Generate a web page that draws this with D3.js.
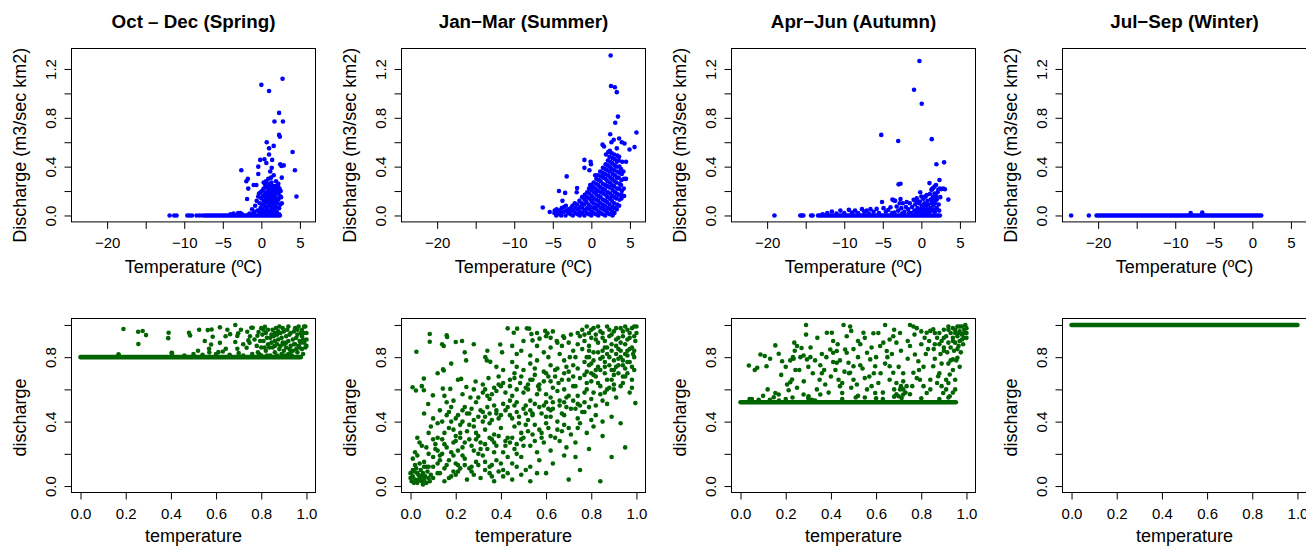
<!DOCTYPE html>
<html><head><meta charset="utf-8">
<script src="https://cdn.jsdelivr.net/npm/d3@7"></script>
<style>
body{margin:0;background:#fff}
svg{display:block}
text{font-family:"Liberation Sans",Arial,Helvetica,sans-serif;fill:#000}
</style>
</head><body>
<svg id="c" width="1306" height="546"></svg>
<script>
// ---------------- DATA ----------------
const titles = ["Oct \u2013 Dec (Spring)", "Jan\u2212Mar (Summer)", "Apr\u2212Jun (Autumn)", "Jul\u2212Sep (Winter)"];
const topXTitle = "Temperature (\u00baC)";
const topYTitle = "Discharge (m3/sec km2)";
const botXTitle = "temperature";
const botYTitle = "discharge";

const tempTicks = [-20, -15, -10, -5, 0, 5];
const tempTickLabels = ["\u221220", "", "\u221210", "\u22125", "0", "5"];
const dischTicks = [0, 0.2, 0.4, 0.6, 0.8, 1.0, 1.2];
const dischTickLabels = ["0.0", "", "0.4", "", "0.8", "", "1.2"];
const unitTicks = [0, 0.2, 0.4, 0.6, 0.8, 1.0];
const unitXTickLabels = ["0.0", "0.2", "0.4", "0.6", "0.8", "1.0"];
const unitYTickLabels = ["0.0", "", "0.4", "", "0.8", ""];

const tempRange = [-23.45, 5.85];
const dischRange = [0, 1.315];
const unitRange = [0, 1];

// Observed (temperature, discharge) points — top row
const springObs = [
 [-11.9,0],[-11.3,0],[-11.0,0],[-9.6,0],[-9.3,0],[-9.0,0],[-8.4,0],[-8.0,0],[-7.6,0],
 [-4.0,0.01],[-3.6,0.015],[-2.7,0.02],[-1.6,0.01],
 [0.0,1.07],[1.0,1.02],[2.75,1.12],[2.3,0.84],[1.7,0.77],[2.8,0.77],[2.3,0.66],[2.4,0.645],[0.7,0.60],[1.6,0.57],[1.0,0.55],[1.0,0.50],[4.05,0.52],
 [-0.15,0.455],[0.4,0.46],[1.4,0.455],[0.65,0.43],[2.45,0.42],[2.6,0.405],[2.9,0.41],[4.35,0.37],[-2.6,0.37],[-0.4,0.40],[1.35,0.39],[1.15,0.36],
 [-0.4,0.34],[-1.75,0.30],[-1.95,0.28],[0.9,0.30],[1.25,0.31],[1.6,0.33],[2.65,0.31],[-1.0,0.25],[-0.65,0.25],[-1.7,0.22],[4.55,0.155],[-1.85,0.135],
 [-0.4,0.155],[-0.1,0.19],[2.55,0.15],[2.65,0.10],[0.6,0.28],[0.3,0.27],[1.9,0.28],[2.2,0.26],
 [-1.2,0.05],[-1.0,0.02],[-0.8,0.08],[-0.6,0.12],[-0.5,0.04],[-0.3,0.18],[-0.2,0.10],[-0.1,0.06],[0.0,0.14],[0.0,0.03],[0.1,0.20],[0.1,0.09],
 [0.2,0.05],[0.2,0.16],[0.3,0.12],[0.3,0.22],[0.35,0.02],[0.4,0.08],[0.45,0.17],[0.5,0.25],[0.5,0.11],[0.55,0.04],[0.6,0.19],[0.6,0.14],
 [0.65,0.07],[0.7,0.23],[0.7,0.02],[0.75,0.12],[0.8,0.18],[0.8,0.05],[0.85,0.26],[0.9,0.10],[0.9,0.15],[0.95,0.21],[1.0,0.03],[1.0,0.13],
 [1.05,0.08],[1.1,0.24],[1.1,0.18],[1.15,0.11],[1.2,0.04],[1.2,0.20],[1.25,0.15],[1.3,0.09],[1.3,0.27],[1.35,0.22],[1.4,0.06],[1.4,0.17],
 [1.45,0.12],[1.5,0.24],[1.5,0.02],[1.55,0.19],[1.6,0.09],[1.6,0.14],[1.65,0.22],[1.7,0.05],[1.75,0.17],[1.8,0.11],[1.8,0.24],[1.85,0.20],
 [1.9,0.07],[1.95,0.14],[2.0,0.22],[2.0,0.03],[2.05,0.18],[2.1,0.10],[2.15,0.24],[2.2,0.13],[2.25,0.19],[2.3,0.06],[2.35,0.22],[2.4,0.16],
 [2.45,0.09],[2.5,0.20],[0.25,0.01],[0.55,0.01],[0.9,0.015],[1.25,0.01],[1.6,0.01],[1.95,0.01],[2.3,0.01],[-2.5,0.01],[-3.0,0.02],[-1.5,0.015],
 [-0.9,0.03],[-0.2,0.02]
];
const springObsRuns = [[-7.3, 2.4, 0]];

const summerObs = [
 [2.5,1.31],[2.55,1.06],[3.05,1.05],[3.3,1.01],[3.45,0.81],[3.1,0.76],[5.85,0.68],[2.45,0.665],[5.6,0.56],[4.95,0.54],[1.45,0.58],[1.65,0.565],
 [3.6,0.63],[3.95,0.60],[4.3,0.59],[-0.9,0.455],[-0.9,0.39],[-0.1,0.44],[-0.05,0.42],[-3.2,0.32],[-4.2,0.20],[-3.4,0.185],[-1.85,0.225],[-1.9,0.19],
 [-6.3,0.065],[-5.4,0.028],[-3.75,0.12],[-0.25,0.37],[0.5,0.33],[-0.15,0.25],[3.9,0.17],[4.25,0.16],[2.75,0.0],[4.5,0.30],[4.0,0.44],[4.5,0.44],
 [2.6,0.60],[2.9,0.62],[3.3,0.55],[2.2,0.52],[1.9,0.50],[3.6,0.48],
 [-4.8,0.02],[-4.75,0.04],[-4.55,0.0],[-4.45,0.03],[-4.5,0.05],[-4.2,0.01],[-4.15,0.04],[-3.95,0.02],[-3.85,0.06],[-3.9,0.0],[-3.6,0.03],[-3.55,0.07],
 [-3.35,0.0],[-3.25,0.04],[-3.3,0.08],[-3.0,0.02],[-2.95,0.05],[-2.7,0.01],[-2.65,0.06],[-2.75,0.03],[-2.4,0.0],[-2.35,0.04],[-2.45,0.08],[-2.1,0.02],
 [-2.05,0.06],[-2.15,0.10],[-1.8,0.01],[-1.75,0.05],[-1.85,0.09],[-1.5,0.03],[-1.45,0.07],[-1.55,0.12],[-1.5,0.0],[-1.2,0.02],[-1.15,0.06],[-1.25,0.10],
 [-1.2,0.15],[-0.9,0.0],[-0.85,0.04],[-0.95,0.09],[-0.9,0.13],[-0.85,0.17],[-0.6,0.02],[-0.55,0.06],[-0.65,0.11],[-0.6,0.15],[-0.55,0.19],[-0.3,0.01],
 [-0.25,0.05],[-0.35,0.09],[-0.3,0.14],[-0.25,0.18],[-0.3,0.22],[0.0,0.0],[0.05,0.03],[-0.05,0.07],[0.0,0.12],[0.05,0.16],[-0.05,0.21],[0.0,0.25],
 [0.3,0.02],[0.35,0.06],[0.25,0.10],[0.3,0.14],[0.35,0.19],[0.25,0.23],[0.3,0.27],[0.6,0.01],[0.65,0.05],[0.55,0.09],[0.6,0.13],[0.65,0.17],
 [0.55,0.22],[0.6,0.26],[0.65,0.30],[0.9,0.0],[0.95,0.03],[0.85,0.08],[0.9,0.12],[0.95,0.16],[0.85,0.20],[0.9,0.25],[0.95,0.29],[0.85,0.33],
 [1.2,0.02],[1.25,0.06],[1.15,0.10],[1.2,0.15],[1.25,0.19],[1.15,0.23],[1.2,0.28],[1.25,0.32],[1.15,0.36],[1.5,0.01],[1.55,0.05],[1.45,0.09],
 [1.5,0.13],[1.55,0.18],[1.45,0.22],[1.5,0.26],[1.55,0.31],[1.45,0.35],[1.5,0.39],[1.8,0.0],[1.85,0.04],[1.75,0.08],[1.8,0.12],[1.85,0.17],
 [1.75,0.21],[1.8,0.25],[1.85,0.30],[1.75,0.34],[1.8,0.38],[1.85,0.42],[2.1,0.02],[2.15,0.06],[2.05,0.11],[2.1,0.15],[2.15,0.19],[2.05,0.24],
 [2.1,0.28],[2.15,0.33],[2.05,0.37],[2.1,0.41],[2.15,0.45],[2.4,0.01],[2.45,0.05],[2.35,0.09],[2.4,0.14],[2.45,0.18],[2.35,0.23],[2.4,0.27],
 [2.45,0.31],[2.35,0.36],[2.4,0.40],[2.45,0.44],[2.35,0.48],[2.4,0.53],[2.7,0.03],[2.75,0.07],[2.65,0.12],[2.7,0.16],[2.75,0.21],[2.65,0.25],
 [2.7,0.30],[2.75,0.34],[2.65,0.38],[2.7,0.43],[2.75,0.47],[2.65,0.51],[3.0,0.02],[3.05,0.06],[2.95,0.10],[3.0,0.15],[3.05,0.19],[2.95,0.24],
 [3.0,0.28],[3.05,0.33],[2.95,0.37],[3.0,0.41],[3.05,0.46],[2.95,0.50],[3.3,0.05],[3.35,0.09],[3.25,0.14],[3.3,0.18],[3.35,0.22],[3.25,0.27],
 [3.3,0.31],[3.35,0.36],[3.25,0.40],[3.3,0.44],[3.35,0.49],[3.6,0.08],[3.65,0.13],[3.55,0.17],[3.6,0.22],[3.65,0.26],[3.55,0.31],[3.6,0.35],
 [3.65,0.40],[3.55,0.45],[3.9,0.14],[3.95,0.20],[3.85,0.25],[3.9,0.29],[3.95,0.34],[3.85,0.38],[4.2,0.22],[4.25,0.30],[4.15,0.36]
];
const summerObsRuns = [];

const autumnObs = [
 [-19.05,0],[-15.7,0],[-15.5,0],[-15.3,0],[-14.3,0],[-14.1,0],
 [-0.25,1.265],[-0.95,1.03],[0.05,0.915],[-5.2,0.66],[-3.0,0.61],[1.35,0.625],[2.95,0.435],[1.95,0.42],[-2.95,0.255],[-2.7,0.26],[1.05,0.265],
 [2.35,0.29],[3.5,0.13],[-0.15,0.19],[-5.1,0.11],[-3.75,0.13],[-3.6,0.125],[-2.7,0.135],[-1.9,0.11],[1.45,0.22],[2.85,0.22],[3.05,0.215],
 [0.5,0.155],[-0.7,0.12],
 [-12.8,0.01],[-12.2,0.02],[-11.6,0.033],[-11.0,0.015],[-10.5,0.04],[-10.0,0.02],[-9.4,0.046],[-9.0,0.025],[-8.6,0.04],[-8.2,0.02],[-7.7,0.052],
 [-7.4,0.03],[-7.1,0.04],[-6.8,0.015],[-6.6,0.052],[-6.2,0.03],[-5.8,0.054],[-5.5,0.02],[-4.9,0.06],[-4.6,0.03],[-4.3,0.045],[-4.0,0.068],
 [-3.8,0.02],[-3.4,0.12],[-3.2,0.073],[-3.0,0.04],[-2.8,0.1],[-2.6,0.06],[-2.4,0.1],[-2.2,0.03],[-2.0,0.07],[-1.7,0.05],[-1.5,0.1],[-1.3,0.02],
 [-1.2,0.07],[-1.0,0.128],[-0.9,0.04],[-0.8,0.09],[-0.6,0.14],[-0.5,0.06],[-0.4,0.03],[-0.3,0.1],[-0.2,0.114],[-0.1,0.05],[0.0,0.155],[0.05,0.08],
 [0.1,0.02],[0.25,0.136],[0.3,0.06],[0.4,0.1],[0.5,0.03],[0.55,0.155],[0.6,0.08],[0.7,0.168],[0.75,0.05],[0.8,0.12],[0.9,0.09],[1.0,0.02],
 [1.1,0.176],[1.15,0.06],[1.2,0.13],[1.3,0.21],[1.35,0.1],[1.4,0.04],[1.5,0.223],[1.5,0.15],[1.55,0.08],[1.6,0.12],[1.7,0.236],[1.7,0.18],
 [1.75,0.03],[1.8,0.1],[1.9,0.25],[1.9,0.16],[2.0,0.06],[2.0,0.13],[2.1,0.19],[2.2,0.21],[2.25,0.09],[2.3,0.04],[2.4,0.22],[2.45,0.15],
 [2.6,0.216],[-1.6,0.02],[-2.5,0.015],[-3.5,0.025],[-0.7,0.025],[0.2,0.04],[0.95,0.035],[1.6,0.045]
];
const autumnObsRuns = [[-13.4, 2.4, 0]];

const winterObs = [[-23.5,0],[-21.2,0],[-8.0,0.02],[-6.5,0.025]];
const winterObsRuns = [[-20.2, 1.15, 0]];

// Normalised (temperature, discharge) points — bottom row
const springNorm = [
 [0.19,0.975],[0.255,0.958],[0.275,0.962],[0.29,0.937],[0.256,0.882],[0.168,0.818],[0.39,0.952],[0.388,0.918],[0.403,0.827],[0.48,0.952],
 [0.485,0.935],[0.525,0.97],[0.563,0.968],[0.58,0.972],[0.617,0.985],[0.685,1.0],[0.698,0.948],[0.694,0.931],[0.756,0.983],[0.762,0.983],
 [0.738,0.958],[0.743,0.904],[0.748,0.889],[0.685,0.894],[0.585,0.927],[0.578,0.879],[0.569,0.852],[0.617,0.889],[0.61,0.831],[0.642,0.93],
 [0.662,0.943],[0.643,0.852],[0.694,0.852],[0.735,0.858],[0.788,0.956],[0.783,0.933],[0.816,0.989],
 [0.17,0.81],[0.405,0.825],[0.46,0.81],[0.5,0.82],[0.54,0.815],[0.57,0.83],[0.6,0.82],[0.63,0.835],[0.66,0.815],[0.7,0.825],[0.72,0.81],[0.76,0.82],
 [0.79,0.82],[0.8,0.86],[0.81,0.9],[0.82,0.84],[0.82,0.95],[0.83,0.88],[0.84,0.92],[0.84,0.81],[0.85,0.97],[0.85,0.86],[0.86,0.9],[0.86,0.83],
 [0.87,0.94],[0.87,0.88],[0.88,0.99],[0.88,0.85],[0.89,0.92],[0.89,0.82],[0.9,0.96],[0.9,0.88],[0.9,0.84],[0.91,0.93],[0.91,0.86],[0.92,0.99],
 [0.92,0.9],[0.92,0.82],[0.93,0.95],[0.93,0.87],[0.94,0.91],[0.94,0.84],[0.95,0.98],[0.95,0.88],[0.96,0.94],[0.96,0.83],[0.97,0.9],[0.97,0.86],
 [0.98,0.97],[0.98,0.93],[0.98,0.85],[0.99,0.99],[0.99,0.89],[1.0,0.95],[1.0,0.91],[0.995,0.99],[0.985,0.82],[0.965,0.99],[0.945,0.96],[0.925,0.85],
 [0.905,0.81],[0.885,0.95],[0.865,0.98],[0.845,0.89],[0.825,0.92],[0.805,0.94],[0.8,0.98],[0.78,0.87],[0.77,0.91],[0.8,0.81],[0.83,0.97],[0.86,0.95],
 [0.915,0.97],[0.935,0.81],[0.955,0.92],[0.975,0.95],[0.995,0.86],[0.965,0.87],[0.875,0.91],[0.895,0.89],[0.855,0.93],[0.815,0.86],
 [0.785,0.83],[0.795,0.9],[0.81,0.97],[0.825,0.81],[0.835,0.86],[0.845,0.94],[0.86,0.87],[0.87,0.81],[0.875,0.96],[0.885,0.87],[0.895,0.98],
 [0.91,0.89],[0.925,0.94],[0.93,0.83],[0.945,0.88],[0.955,0.85],[0.96,0.97],[0.975,0.89],[0.985,0.91],[0.99,0.95],[1.0,0.87],[0.65,0.97],
 [0.71,0.97],[0.72,0.88],[0.75,0.93],[0.55,0.9],[0.52,0.84]
];
const springNormRuns = [[0, 0.975, 0.8]];

const summerNorm = [
 [0.085,0.944],[0.16,0.935],[0.162,0.925],[0.43,0.979],[0.457,0.952],[0.472,0.977],[0.515,0.979],[0.525,0.977],[0.535,0.944],[0.54,0.904],
 [0.571,0.915],[0.596,0.963],[0.606,0.948],[0.62,0.92],[0.647,0.90],[0.676,0.93],
 [0.085,0.896],[0.14,0.88],[0.147,0.869],[0.2,0.894],[0.228,0.90],[0.397,0.879],[0.56,0.87],[0.62,0.86],[0.67,0.87],[0.026,0.834],[0.24,0.83],
 [0.331,0.80],[0.405,0.83],[0.47,0.82],[0.49,0.84],[0.53,0.81],[0.59,0.83],[0.61,0.80],[0.66,0.82],[0.705,0.80],
 [0.144,0.724],[0.147,0.717],[0.246,0.78],[0.338,0.78],[0.353,0.771],[0.38,0.74],[0.41,0.72],[0.45,0.77],[0.47,0.74],[0.5,0.72],[0.53,0.76],
 [0.55,0.73],[0.59,0.71],[0.62,0.75],[0.65,0.73],[0.68,0.78],[0.7,0.71],[0.72,0.75],
 [0.059,0.667],[0.009,0.613],[0.143,0.605],[0.176,0.603],[0.21,0.66],[0.224,0.665],[0.247,0.615],[0.288,0.649],[0.32,0.63],[0.345,0.67],
 [0.37,0.61],[0.39,0.68],[0.41,0.64],[0.44,0.62],[0.46,0.67],[0.485,0.64],[0.51,0.61],[0.53,0.66],[0.55,0.69],[0.565,0.62],[0.59,0.65],
 [0.61,0.68],[0.63,0.61],[0.655,0.64],[0.68,0.6],[0.70,0.66],[0.73,0.62],[0.75,0.67],[0.78,0.64],[0.81,0.69],[0.84,0.62],[0.87,0.66],
 [0.9,0.63],[0.94,0.68],[0.98,0.61],
 [0.024,0.593],[0.059,0.595],[0.099,0.563],[0.078,0.509],[0.15,0.56],[0.19,0.53],[0.23,0.57],[0.265,0.55],[0.29,0.52],[0.32,0.58],[0.35,0.54],
 [0.38,0.59],[0.41,0.51],[0.45,0.56],[0.47,0.52],[0.5,0.58],[0.53,0.53],[0.56,0.57],[0.59,0.50],[0.62,0.55],[0.65,0.59],[0.68,0.52],[0.7,0.56],
 [0.74,0.51],[0.77,0.58],[0.8,0.54],[0.84,0.57],[0.87,0.51],[0.91,0.55],[0.995,0.515],
 [0.13,0.47],[0.16,0.44],[0.18,0.49],[0.2,0.42],[0.23,0.47],[0.25,0.45],[0.27,0.48],[0.3,0.43],[0.32,0.46],[0.34,0.49],[0.36,0.41],[0.38,0.47],
 [0.4,0.44],[0.43,0.49],[0.45,0.42],[0.47,0.46],[0.5,0.48],[0.52,0.41],[0.54,0.45],[0.57,0.49],[0.6,0.43],[0.62,0.47],[0.65,0.4],[0.68,0.44],
 [0.71,0.48],[0.74,0.42],[0.77,0.46],[0.8,0.41],[0.82,0.44],[0.85,0.40],[0.89,0.43],
 [0.09,0.37],[0.12,0.39],[0.15,0.33],[0.17,0.36],[0.2,0.31],[0.22,0.38],[0.25,0.34],[0.28,0.37],[0.3,0.31],[0.33,0.35],[0.35,0.39],[0.37,0.32],
 [0.4,0.36],[0.43,0.30],[0.46,0.37],[0.49,0.33],[0.51,0.38],[0.54,0.32],[0.57,0.35],[0.6,0.39],[0.62,0.31],[0.65,0.35],[0.68,0.38],[0.71,0.32],
 [0.74,0.36],[0.78,0.33],[0.81,0.37],[0.85,0.31],[0.93,0.39],
 [0.04,0.27],[0.07,0.24],[0.1,0.29],[0.12,0.22],[0.15,0.26],[0.18,0.21],[0.2,0.28],[0.23,0.24],[0.26,0.29],[0.28,0.22],[0.31,0.27],[0.34,0.23],
 [0.36,0.29],[0.38,0.25],[0.41,0.21],[0.44,0.27],[0.46,0.23],[0.49,0.29],[0.53,0.25],[0.56,0.21],[0.59,0.27],[0.62,0.22],[0.66,0.28],[0.69,0.24],
 [0.73,0.27],[0.79,0.23],[0.95,0.24],
 [0.01,0.17],[0.03,0.19],[0.06,0.15],[0.08,0.12],[0.1,0.18],[0.12,0.14],[0.15,0.11],[0.17,0.16],[0.19,0.19],[0.21,0.13],[0.24,0.17],[0.26,0.11],
 [0.29,0.15],[0.32,0.19],[0.35,0.12],[0.38,0.16],[0.41,0.1],[0.45,0.14],[0.49,0.18],[0.53,0.12],[0.57,0.16],[0.63,0.14],[0.68,0.19],[0.73,0.18],
 [0.75,0.10],[0.89,0.18],
 [0.1,0.05],[0.12,0.08],[0.15,0.03],[0.18,0.06],[0.21,0.09],[0.25,0.04],[0.28,0.07],[0.31,0.05],[0.35,0.08],[0.37,0.03],[0.41,0.06],[0.45,0.04],
 [0.49,0.07],[0.53,0.03],[0.56,0.08],[0.6,0.08],[0.7,0.04],[0.84,0.03],
 [0.005,0.03],[0.01,0.06],[0.015,0.09],[0.02,0.04],[0.025,0.11],[0.03,0.02],[0.035,0.07],[0.04,0.05],[0.045,0.1],[0.05,0.03],[0.055,0.08],
 [0.06,0.04],[0.065,0.06],[0.07,0.02],[0.075,0.09],[0.08,0.05],[0.02,0.13],[0.04,0.14],[0.06,0.12],[0.01,0.1],[0.03,0.08],[0.05,0.06],
 [0.07,0.12],[0.085,0.03],[0.09,0.07],[0.0,0.05],[0.0,0.08],[0.015,0.02],[0.055,0.01],[0.035,0.035],
 [0.76,0.97],[0.78,0.99],[0.79,0.95],[0.8,0.92],[0.81,0.98],[0.77,0.9],[0.79,0.87],[0.82,0.94],[0.83,0.89],[0.84,0.96],[0.85,0.92],[0.86,0.86],
 [0.87,0.99],[0.88,0.93],[0.89,0.88],[0.9,0.96],[0.91,0.91],[0.92,0.85],[0.93,0.98],[0.94,0.93],[0.95,0.88],[0.96,0.97],[0.97,0.92],[0.98,0.86],
 [0.99,0.99],[1.0,0.95],[0.995,0.9],[0.985,0.82],[0.96,0.81],[0.93,0.8],[0.9,0.78],[0.87,0.82],[0.84,0.79],[0.81,0.83],[0.78,0.8],[0.76,0.85],
 [0.75,0.93],[0.74,0.88],[0.8,0.76],[0.83,0.74],[0.86,0.77],[0.89,0.72],[0.92,0.75],[0.95,0.73],[0.97,0.77],[0.99,0.8],[0.9,0.69],[0.86,0.7],
 [0.82,0.68],[0.78,0.71],[0.94,0.64],[0.88,0.61],[0.96,0.84],[0.91,0.82],[0.85,0.84],[0.79,0.84],[0.73,0.8],[0.72,0.84],[0.7,0.89],[0.71,0.94],
 [0.1,0.42],[0.12,0.3],[0.14,0.2],[0.16,0.52],[0.18,0.4],[0.2,0.14],[0.22,0.33],[0.24,0.49],[0.26,0.38],[0.28,0.6],[0.3,0.2],[0.32,0.4],
 [0.34,0.56],[0.36,0.13],[0.38,0.45],[0.4,0.62],[0.42,0.28],[0.44,0.53],[0.46,0.7],[0.48,0.39],[0.5,0.25],[0.52,0.63],[0.54,0.44],[0.56,0.78],
 [0.58,0.3],[0.6,0.57],[0.62,0.43],[0.64,0.68],[0.66,0.5],[0.68,0.7],[0.7,0.36],[0.72,0.62],[0.74,0.56],[0.76,0.46],[0.78,0.6],[0.8,0.65],
 [0.82,0.5],[0.84,0.72],[0.86,0.58],[0.88,0.8],[0.9,0.6],[0.92,0.7],[0.94,0.78],[0.96,0.7],[0.98,0.66],[0.11,0.26],[0.13,0.16],[0.19,0.09],
 [0.23,0.19],[0.27,0.12],[0.29,0.33],[0.33,0.15],[0.37,0.21],[0.39,0.09],[0.43,0.18],[0.47,0.2],[0.51,0.45],[0.55,0.38],[0.57,0.6],[0.61,0.48],
 [0.63,0.52],[0.67,0.45],[0.69,0.55],[0.73,0.48],[0.75,0.39],[0.77,0.52],[0.79,0.49],[0.81,0.58],[0.83,0.64],[0.85,0.53],[0.87,0.6],[0.89,0.66],
 [0.91,0.74],[0.93,0.62],[0.95,0.68],[0.97,0.58],[0.99,0.72],
 [0.02,0.21],[0.05,0.25],[0.08,0.2],[0.11,0.23],[0.13,0.19],[0.14,0.29],[0.16,0.24],[0.19,0.27],[0.21,0.22],[0.22,0.3],[0.24,0.27],[0.27,0.25],
 [0.29,0.29],[0.31,0.23],[0.33,0.26],[0.35,0.3],[0.37,0.27],[0.39,0.31],[0.42,0.25],[0.45,0.3],[0.47,0.26],[0.5,0.3],[0.52,0.34],[0.55,0.28],
 [0.58,0.33],[0.61,0.36],[0.64,0.3],[0.67,0.34],
 [0.1,0.12],[0.13,0.08],[0.16,0.13],[0.17,0.05],[0.2,0.07],[0.22,0.11],[0.24,0.13],[0.27,0.09],[0.3,0.13],[0.33,0.1],[0.36,0.06],[0.4,0.14],
 [0.43,0.08],[0.47,0.12],[0.51,0.1],
 [0.14,0.4],[0.17,0.46],[0.19,0.35],[0.21,0.44],[0.23,0.4],[0.26,0.45],[0.28,0.41],[0.31,0.47],[0.33,0.43],[0.35,0.45],[0.37,0.5],[0.39,0.42],
 [0.42,0.47],[0.44,0.44],[0.46,0.5],[0.48,0.43],[0.51,0.5],[0.53,0.47],[0.55,0.51],[0.58,0.45],[0.6,0.52],[0.63,0.48],[0.66,0.53],[0.69,0.49],
 [0.72,0.53],[0.75,0.5],
 [0.3,0.55],[0.33,0.6],[0.36,0.57],[0.39,0.63],[0.42,0.58],[0.44,0.66],[0.47,0.6],[0.49,0.68],[0.52,0.6],[0.54,0.66],[0.57,0.63],[0.6,0.7],
 [0.62,0.65],[0.64,0.72],[0.67,0.66],[0.69,0.74],[0.72,0.68],[0.74,0.73],[0.77,0.69],[0.79,0.75],
 [0.74,0.95],[0.77,0.94],[0.8,0.97],[0.82,0.91],[0.83,0.99],[0.85,0.95],[0.86,0.9],[0.88,0.97],[0.89,0.94],[0.91,0.98],[0.92,0.92],[0.93,0.89],
 [0.94,0.96],[0.95,0.99],[0.96,0.91],[0.97,0.95],[0.98,0.98],[0.99,0.93],[1.0,0.99],[0.97,0.85],[0.95,0.82],[0.93,0.84],[0.91,0.87],[0.89,0.84],
 [0.87,0.86],[0.85,0.8],[0.83,0.83],[0.81,0.78],[0.79,0.8],[0.77,0.77],[0.92,0.79],[0.94,0.75],[0.96,0.77],[0.98,0.74],[0.99,0.84],[0.88,0.75],
 [0.86,0.74],[0.9,0.72],[0.82,0.72],[0.8,0.7],
 [0.6,0.93],[0.63,0.96],[0.65,0.89],[0.68,0.92],[0.56,0.95],[0.5,0.9],[0.45,0.87],[0.34,0.84],[0.28,0.88],[0.18,0.76],[0.12,0.7],[0.05,0.62],
 [0.06,0.45],[0.08,0.33],[0.03,0.3]
];
const summerNormRuns = [];

const autumnNorm = [
 [0.037,0.748],[0.074,0.734],[0.063,0.72],[0.115,0.744],[0.088,0.817],[0.107,0.807],[0.131,0.79],[0.154,0.873],[0.169,0.821],[0.184,0.775],
 [0.147,0.551],[0.169,0.568],[0.154,0.578],[0.13,0.535],[0.206,0.63],[0.22,0.644],[0.228,0.661],[0.213,0.595],[0.25,0.869],[0.238,0.89],
 [0.235,0.79],[0.232,0.80],[0.243,0.72],[0.265,0.80],[0.279,0.81],[0.294,0.786],[0.309,0.80],[0.29,1.0],[0.29,0.94],[0.27,0.857],[0.25,0.61],
 [0.279,0.568],[0.301,0.557],[0.316,0.536],[0.338,0.6],[0.353,0.568],[0.353,0.75],[0.37,0.72],[0.375,0.63],[0.35,0.66],[0.382,0.952],
 [0.404,0.952],[0.397,0.848],[0.41,0.827],[0.426,0.838],[0.426,0.765],[0.42,0.72],[0.41,0.9],[0.434,0.66],[0.44,0.62],[0.45,0.578],[0.456,1.0],
 [0.485,0.99],[0.49,0.963],[0.463,0.848],[0.47,0.827],[0.478,0.765],[0.5,0.744],[0.485,0.703],[0.49,0.61],[0.5,0.66],[0.515,0.63],[0.52,0.9],
 [0.53,0.88],[0.544,0.952],[0.588,0.948],[0.56,0.827],[0.574,0.786],[0.596,0.744],[0.55,0.67],[0.58,0.62],[0.596,0.578],[0.61,0.64],[0.618,0.869],
 [0.632,0.89],[0.647,0.838],[0.66,0.91],[0.64,1.0],[0.676,0.93],[0.69,0.89],[0.706,0.95],[0.66,0.744],[0.676,0.703],[0.69,0.64],[0.706,0.6],
 [0.72,0.568],[0.735,0.62],[0.7,0.557],[0.713,0.546],[0.75,1.0],[0.765,0.99],[0.78,0.98],[0.75,0.869],[0.772,0.817],[0.787,0.775],[0.765,0.703],
 [0.794,0.66],[0.81,0.62],[0.824,0.578],[0.824,0.952],[0.84,0.963],[0.853,0.973],[0.853,0.744],[0.875,0.682],[0.89,0.62],[0.897,0.578],[0.91,0.6],
 [0.926,0.557],[0.94,0.786],[0.96,0.796],[0.926,0.692],[0.95,0.66],
 [0.32,0.7],[0.36,0.82],[0.4,0.68],[0.44,0.78],[0.46,0.71],[0.52,0.8],[0.54,0.73],[0.57,0.68],[0.6,0.8],[0.62,0.7],[0.64,0.76],[0.67,0.82],
 [0.7,0.74],[0.72,0.65],[0.74,0.79],[0.76,0.62],[0.79,0.72],[0.82,0.82],[0.84,0.66],[0.86,0.79],[0.88,0.7],[0.9,0.84],[0.92,0.76],[0.23,0.55],
 [0.33,0.53],[0.52,0.56],[0.6,0.545],[0.68,0.555],[0.72,0.6],[0.73,0.58],[0.71,0.62],[0.68,0.6],[0.05,0.54],[0.08,0.535],[0.17,0.53],
 [0.2,0.54],[0.3,0.545],[0.45,0.54],[0.55,0.55],[0.63,0.54],[0.8,0.545],[0.88,0.54],[0.92,0.55],
 [0.86,0.88],[0.87,0.92],[0.88,0.95],[0.89,0.9],[0.9,0.97],[0.9,0.86],[0.91,0.93],[0.92,0.89],[0.92,0.99],[0.93,0.95],[0.93,0.86],[0.94,0.92],
 [0.94,0.98],[0.95,0.89],[0.95,0.95],[0.96,0.93],[0.96,0.99],[0.97,0.9],[0.97,0.96],[0.98,0.94],[0.98,0.99],[0.99,0.97],[0.99,0.92],[1.0,0.98],
 [1.0,0.95],[0.995,1.0],[0.965,0.87],[0.945,0.84],[0.915,0.83],[0.885,0.82],[0.855,0.85],[0.835,0.9],[0.815,0.92],[0.8,0.88],[0.975,0.83],
 [0.955,0.78],[0.985,0.88],[0.97,0.74],[0.94,0.72],[0.92,0.64],[0.95,0.6],[0.94,0.58],
 [0.04,0.54],[0.1,0.56],[0.12,0.6],[0.18,0.69],[0.2,0.74],[0.22,0.78],[0.24,0.84],[0.26,0.72],[0.28,0.65],[0.3,0.74],[0.31,0.86],[0.33,0.78],
 [0.34,0.92],[0.36,0.7],[0.38,0.8],[0.39,0.58],[0.41,0.77],[0.43,0.88],[0.45,0.64],[0.47,0.93],[0.48,0.7],[0.5,0.85],[0.51,0.55],[0.53,0.75],
 [0.55,0.92],[0.56,0.6],[0.58,0.86],[0.59,0.7],[0.61,0.95],[0.63,0.58],[0.65,0.8],[0.66,0.66],[0.68,0.97],[0.69,0.57],[0.71,0.84],[0.72,0.7],
 [0.74,0.9],[0.75,0.57],[0.77,0.94],[0.78,0.67],[0.8,0.96],[0.81,0.74],[0.83,0.85],[0.84,0.6],[0.86,0.95],[0.87,0.64],[0.88,0.88],[0.89,0.76],
 [0.9,0.92],[0.91,0.66],[0.92,0.97],[0.93,0.78],[0.94,0.9],[0.95,0.97],[0.96,0.85],[0.97,0.99],[0.98,0.91],[0.99,0.95],[1.0,0.92],[0.965,0.95]
];
const autumnNormRuns = [[0, 0.953, 0.52]];

const winterNorm = [];
const winterNormRuns = [[0, 1, 1]];

const obsColor = "#0000FF";
const normColor = "#006400";

// ---------------- DRAWING ----------------
const svg = d3.select("#c");
const panelLeft = [71.5, 401.5, 731.5, 1062.5];
const W = 244;
const TOP_Y = 48.5, TOP_H = 173.4, BOT_Y = 318.5, BOT_H = 174;
const R = 2.3;
const FONT = '"Liberation Sans",Arial,Helvetica,sans-serif';

function padded(r) { const s = (r[1]-r[0])*0.04; return [r[0]-s, r[1]+s]; }

const xTop = d3.scaleLinear().domain(padded(tempRange)).range([0, W]);
const yTop = d3.scaleLinear().domain(padded(dischRange)).range([TOP_H, 0]);
const xBot = d3.scaleLinear().domain(padded(unitRange)).range([0, W]);
const yBot = d3.scaleLinear().domain(padded(unitRange)).range([BOT_H, 0]);

function drawPanel(o) {
  const g = svg.append("g").attr("transform", `translate(${o.left},${o.top})`);
  g.selectAll("line.run").data(o.runs).join("line").attr("class","run")
    .attr("x1", d => o.x(d[0])).attr("x2", d => o.x(d[1]))
    .attr("y1", d => o.y(d[2])).attr("y2", d => o.y(d[2]))
    .attr("stroke", o.color).attr("stroke-width", 2*R).attr("stroke-linecap", "round");
  g.selectAll("circle").data(o.pts).join("circle")
    .attr("cx", d => o.x(d[0])).attr("cy", d => o.y(d[1])).attr("r", R).attr("fill", o.color);
  g.append("rect").attr("x",0).attr("y",0).attr("width",W).attr("height",o.h)
    .attr("fill","none").attr("stroke","#000").attr("stroke-width",1);

  const xa = d3.axisBottom(o.x).tickValues(o.xTicks).tickFormat((d,i) => o.xLabels[i]).tickSize(7).tickSizeOuter(0);
  const gx = g.append("g").attr("transform", `translate(0,${o.h})`).call(xa)
    .attr("font-size", 15).attr("font-family", FONT);
  gx.select(".domain").remove();
  gx.selectAll("line").attr("stroke","#000");
  gx.selectAll("text").attr("y", 26).attr("dy", null).attr("fill","#000");

  const ya = d3.axisLeft(o.y).tickValues(o.yTicks).tickFormat((d,i) => o.yLabels[i]).tickSize(7).tickSizeOuter(0);
  const gy = g.append("g").call(ya).attr("font-size", 15).attr("font-family", FONT);
  gy.select(".domain").remove();
  gy.selectAll("line").attr("stroke","#000");
  gy.selectAll("text").attr("x", null).attr("dy", null).attr("text-anchor","middle")
    .attr("transform","translate(-16,0) rotate(-90)").attr("fill","#000");

  g.append("text").attr("x", W/2).attr("y", o.h + o.xTitleGap).attr("text-anchor","middle")
    .attr("font-size", 18).text(o.xTitle);
  g.append("text").attr("transform", `translate(-46,${o.h/2 + o.yShift}) rotate(-90)`)
    .attr("text-anchor","middle").attr("font-size", 18).text(o.yTitle);
  if (o.title) {
    g.append("text").attr("x", W/2).attr("y", 28 - o.top).attr("text-anchor","middle")
      .attr("font-size", 18.8).attr("font-weight","bold").text(o.title);
  }
}

const obsSets = [[springObs, springObsRuns],[summerObs, summerObsRuns],[autumnObs, autumnObsRuns],[winterObs, winterObsRuns]];
const normSets = [[springNorm, springNormRuns],[summerNorm, summerNormRuns],[autumnNorm, autumnNormRuns],[winterNorm, winterNormRuns]];

obsSets.forEach((s, i) => drawPanel({
  left: panelLeft[i], top: TOP_Y, h: TOP_H, x: xTop, y: yTop, pts: s[0], runs: s[1], color: obsColor,
  xTicks: tempTicks, xLabels: tempTickLabels, yTicks: dischTicks, yLabels: dischTickLabels,
  xTitle: topXTitle, yTitle: topYTitle, yShift: 10, xTitleGap: 51.5, title: titles[i]
}));
normSets.forEach((s, i) => drawPanel({
  left: panelLeft[i], top: BOT_Y, h: BOT_H, x: xBot, y: yBot, pts: s[0], runs: s[1], color: normColor,
  xTicks: unitTicks, xLabels: unitXTickLabels, yTicks: unitTicks, yLabels: unitYTickLabels,
  xTitle: botXTitle, yTitle: botYTitle, yShift: 12, xTitleGap: 49.5, title: null
}));
</script>
</body></html>
